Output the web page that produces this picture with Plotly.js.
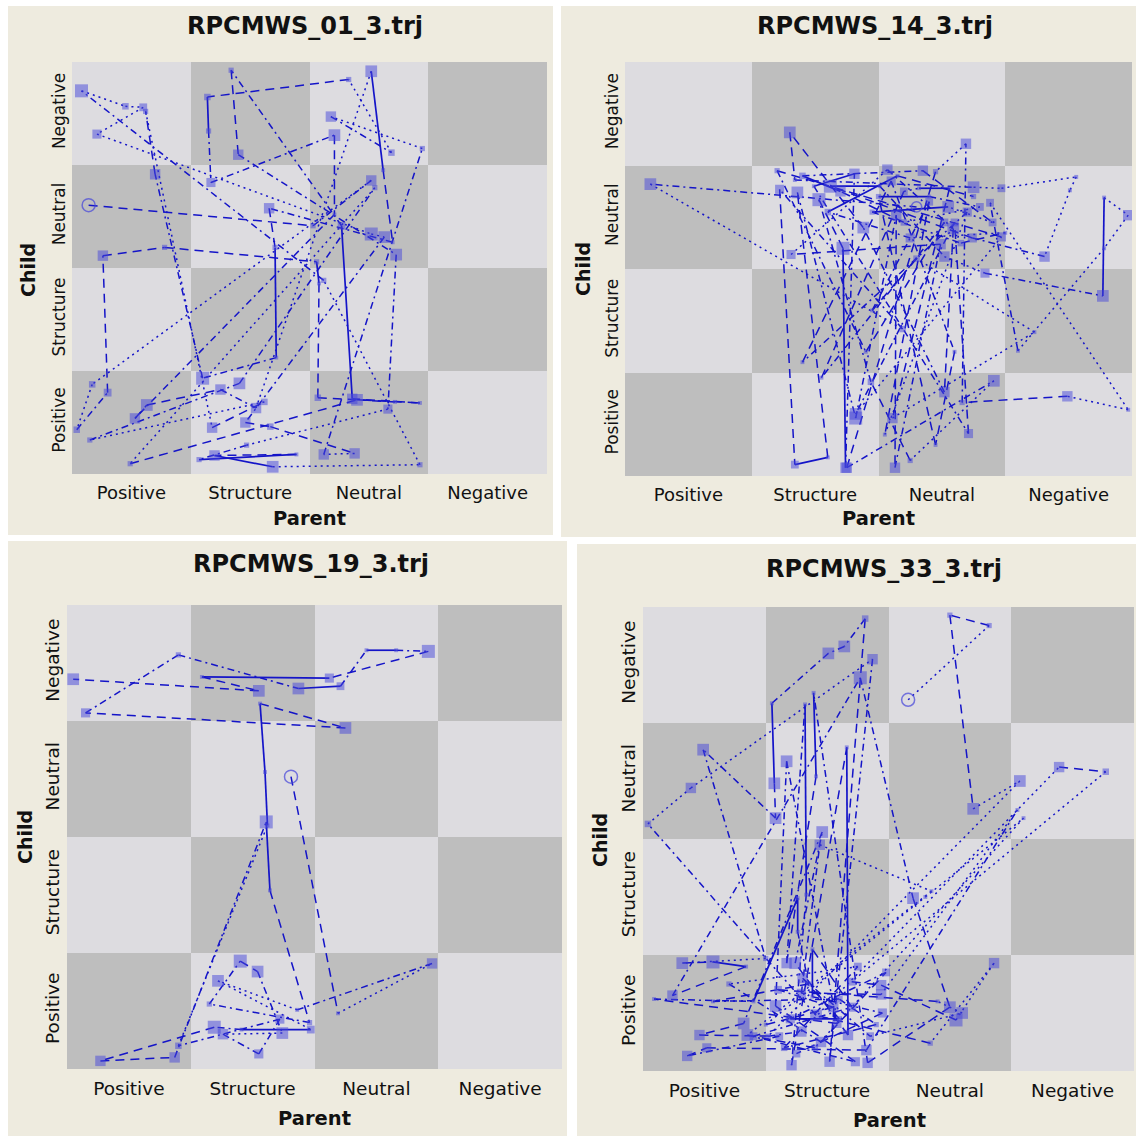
<!DOCTYPE html>
<html>
<head>
<meta charset="utf-8">
<script src="https://cdn.plot.ly/plotly-3.0.1.min.js"></script>
<style>
  html, body { margin: 0; padding: 0; background: #ffffff; }
  #chart { width: 1136px; height: 1137px; }
</style>
</head>
<body>
<div id="chart"></div>
<script>
// State-space grids: parent behaviour (x) against child behaviour (y).
// Each trajectory is a sequence of events; marker size = event duration,
// segment style = transition type.

const parentStates = ['Positive', 'Structure', 'Neutral', 'Negative'];
const childStates  = ['Positive', 'Structure', 'Neutral', 'Negative'];
const cellCenters  = [0.5, 1.5, 2.5, 3.5];
// checkerboard shading of the 4x4 grid (rows: child Positive..Negative)
const cellShade = [[1, 0, 1, 0], [0, 1, 0, 1], [1, 0, 1, 0], [0, 1, 0, 1]];

const fileNames = ['RPCMWS_01_3.trj', 'RPCMWS_14_3.trj', 'RPCMWS_19_3.trj', 'RPCMWS_33_3.trj'];

// ---- RPCMWS_01_3 ----
const p1X = [0.14, 2.03, 2.52, 0.17, 0.04, 0.30, 0.26, 0.78, 2.06, 2.08, 2.07, 2.93, 2.36, 2.27, 1.34, 1.40, 2.73, 2.66, 1.47, 1.07,
             1.89, 1.20, 1.69, 2.93, 2.12, 0.08, 0.45, 0.60, 0.21, 2.52, 2.63, 1.46, 1.67, 2.38, 2.12, 2.95, 2.18, 2.69, 2.33, 1.14,
             1.15, 1.17, 2.21, 2.21, 0.53, 0.63, 1.25, 1.55, 2.52, 2.62, 2.70, 1.66, 1.71, 1.72, 1.10, 0.70, 0.62, 1.18, 1.62, 0.15,
             1.41, 2.55, 0.49, 2.40, 2.72];
const p1Y = [2.61, 2.41, 2.85, 0.87, 0.43, 0.79, 2.12, 2.20, 2.06, 1.85, 0.74, 0.69, 0.73, 2.41, 3.92, 3.10, 2.13, 0.63, 0.28, 0.14,
             0.19, 0.18, 0.07, 0.09, 1.88, 3.72, 3.57, 3.56, 3.30, 2.33, 2.30, 0.50, 0.46, 0.20, 0.19, 3.16, 3.47, 3.12, 3.83, 3.66,
             3.33, 2.83, 3.29, 2.52, 0.54, 0.67, 0.82, 0.64, 3.91, 2.95, 2.25, 2.58, 2.20, 1.13, 0.93, 2.91, 3.52, 0.45, 0.70, 0.33,
             0.88, 2.78, 0.10, 0.72, 0.70];
const p1Size = [10, 4, 8, 5, 5, 6, 8, 4, 4, 3, 5, 3, 8, 6, 4, 8, 9, 7, 4, 4,
                3, 8, 9, 4, 4, 10, 5, 6, 7, 10, 9, 8, 5, 8, 8, 4, 8, 5, 4, 5,
                4, 7, 9, 3, 8, 9, 8, 8, 9, 3, 3, 8, 4, 3, 10, 8, 4, 8, 5, 4,
                9, 4, 4, 9, 3];
const p1Dash = ['dash', 'dashdot', 'dot', 'dot', 'dashdot', 'dash', 'dash', 'dash', 'solid', 'dash', 'dash', 'dash', 'solid', 'dashdot', 'dash', 'dashdot', 'dashdot', 'dot', 'dashdot', 'solid',
                'dash', 'solid', 'dot', 'dot', 'dashdot', 'dot', 'dot', 'dot', 'dot', 'dot', 'dashdot', 'dash', 'dash', 'dot', 'dashdot', 'dot', 'dashdot', 'dot', 'dash', 'solid',
                'dashdot', 'dashdot', 'dash', 'dashdot', 'dash', 'dash', 'dashdot', 'dot', 'solid', 'dash', 'dashdot', 'dash', 'solid', 'dashdot', 'dashdot', 'dash', 'dot', 'dash', 'dot', 'dashdot',
                'dashdot', 'dot', 'dash', 'dash'];

// ---- RPCMWS_14_3 ----
const p2X = [2.30, 0.20, 2.19, 1.22, 1.34, 1.60, 1.36, 1.82, 2.14, 2.13, 2.49, 1.31, 2.07, 2.59, 2.52, 1.88, 1.30, 1.34, 2.75, 2.97,
             3.56, 3.51, 3.31, 2.74, 1.62, 2.01, 2.52, 2.84, 3.77, 3.78, 3.97, 3.78, 3.10, 2.88, 3.97, 3.49, 2.66, 2.69, 2.45, 1.75,
             2.91, 2.25, 1.94, 1.53, 1.72, 1.74, 1.81, 1.49, 2.71, 2.60, 1.82, 2.97, 1.20, 1.90, 2.52, 1.55, 2.20, 2.32, 2.56, 2.11,
             3.23, 2.30, 1.95, 2.40, 2.05, 2.70, 1.40, 2.10, 2.60, 2.45, 2.00, 2.40, 2.80, 2.20, 1.70, 1.40, 2.35, 2.90, 2.55, 1.95,
             2.65, 3.00, 2.25, 1.60, 2.15, 2.75];
const p2Y = [2.60, 2.82, 1.42, 2.77, 0.11, 0.18, 2.74, 0.56, 2.52, 0.08, 2.24, 2.14, 2.96, 2.39, 0.81, 2.40, 3.32, 2.86, 2.79, 2.78,
             2.89, 2.76, 2.12, 2.30, 2.80, 2.80, 2.12, 1.96, 1.74, 2.69, 2.52, 2.20, 1.21, 2.64, 0.64, 0.77, 0.71, 3.21, 2.94, 0.08,
             0.92, 0.15, 0.91, 2.67, 2.20, 0.08, 2.92, 2.80, 0.41, 2.45, 0.60, 2.31, 2.95, 1.20, 2.45, 0.95, 2.75, 2.78, 2.78, 0.56,
             1.39, 2.10, 1.60, 2.65, 0.40, 2.55, 1.10, 2.85, 1.20, 0.30, 2.70, 2.70, 2.60, 2.45, 2.75, 2.90, 2.95, 2.45, 2.60, 2.55,
             2.25, 2.35, 2.30, 2.55, 2.90, 2.70];
const p2Size = [8, 9, 5, 7, 6, 3, 9, 10, 8, 8, 8, 7, 8, 9, 8, 9, 9, 3, 9, 6,
                3, 3, 8, 7, 10, 3, 8, 7, 9, 3, 8, 3, 3, 6, 3, 8, 4, 8, 4, 8,
                9, 4, 5, 10, 10, 8, 8, 3, 7, 6, 9, 7, 4, 3, 6, 3, 6, 3, 3, 8,
                3, 5, 3, 6, 3, 7, 3, 7, 3, 3, 4, 3, 6, 5, 8, 5, 8, 6, 9, 4,
                5, 3, 7, 5, 3, 4];
const p2Dash = ['dashdot', 'dot', 'dashdot', 'dash', 'solid', 'dash', 'dashdot', 'dashdot', 'dash', 'dashdot', 'dash', 'dot', 'dashdot', 'dash', 'dashdot', 'dash', 'dash', 'dashdot', 'dot', 'dot',
                'dot', 'dot', 'dashdot', 'dash', 'solid', 'dashdot', 'dot', 'dashdot', 'solid', 'dot', 'dot', 'dot', 'dashdot', 'dot', 'dot', 'dash', 'dashdot', 'dot', 'dash', 'dashdot',
                'dot', 'dash', 'dashdot', 'dash', 'solid', 'dashdot', 'solid', 'dashdot', 'dash', 'dashdot', 'dot', 'dash', 'dashdot', 'dash', 'dashdot', 'dash', 'dot', 'solid', 'dash', 'dot',
                'dot', 'dash', 'dashdot', 'dash', 'dot', 'dashdot', 'dash', 'dashdot', 'dash', 'dash', 'solid', 'dashdot', 'dot', 'dash', 'solid', 'dashdot', 'dash', 'dot', 'solid', 'dashdot',
                'dash', 'dot', 'dashdot', 'solid', 'dash'];

// ---- RPCMWS_19_3 ----
const p3X = [1.81, 2.19, 2.95, 1.86, 1.22, 1.97, 1.41, 1.19, 0.27, 0.87, 1.61, 1.64, 1.96, 1.15, 1.40, 1.54, 1.74, 1.26, 1.55, 1.72,
             0.90, 1.62, 1.60, 1.56, 2.25, 0.15, 0.90, 1.87, 2.21, 2.42, 2.66, 2.92, 2.12, 1.09, 1.55, 0.05];
const p3Y = [2.52, 0.48, 0.91, 0.51, 0.76, 0.34, 0.34, 0.36, 0.07, 0.10, 2.13, 1.54, 0.40, 0.56, 0.93, 0.84, 0.31, 0.30, 0.13, 0.43,
             0.20, 2.10, 2.56, 3.15, 2.94, 3.07, 3.57, 3.28, 3.30, 3.61, 3.61, 3.60, 3.37, 3.38, 3.26, 3.36];
const p3Size = [10, 3, 8, 3, 9, 6, 3, 10, 8, 8, 10, 3, 4, 4, 10, 9, 9, 8, 7, 7,
                5, 3, 3, 3, 9, 7, 4, 9, 6, 3, 3, 10, 7, 3, 9, 9];
const p3Dash = ['dash', 'dot', 'dashdot', 'dot', 'dot', 'solid', 'dashdot', 'dash', 'dash', 'dashdot', 'solid', 'dash', 'dashdot', 'dashdot', 'dash', 'dashdot', 'dot', 'dashdot', 'dashdot', 'dashdot',
                'dot', 'solid', 'solid', 'dash', 'dash', 'dashdot', 'dashdot', 'solid', 'dashdot', 'solid', 'dashdot', 'dash', 'solid', 'dash', 'dash'];

// ---- RPCMWS_33_3 ----
const p4X = [2.16, 2.82, 2.50, 2.69, 3.07, 1.02, 1.29, 3.39, 3.77, 1.70, 1.94, 2.55, 2.86, 2.34, 1.41, 0.04, 0.39, 1.87, 1.52, 1.81,
             1.64, 1.51, 1.05, 1.07, 1.08, 0.49, 1.00, 0.32, 0.57, 0.84, 0.24, 1.77, 2.20, 2.50, 1.83, 1.39, 1.41, 1.17, 1.32, 1.33,
             1.21, 1.66, 1.67, 1.24, 1.46, 0.82, 0.46, 1.11, 0.36, 0.52, 1.82, 3.05, 1.94, 1.29, 1.44, 2.35, 0.85, 1.73, 1.08, 1.17,
             1.58, 0.09, 0.90, 1.26, 1.26, 1.35, 0.57, 1.60, 1.90, 1.15, 1.75, 0.70, 1.45, 1.98, 1.20, 1.60, 1.30, 1.85, 2.60, 2.40,
             1.10, 1.55, 1.00, 2.30, 3.10, 1.40, 0.90, 1.70, 1.38, 1.38, 1.95, 1.25];
const p4Y = [3.20, 3.84, 3.93, 2.26, 2.50, 0.30, 0.34, 2.62, 2.58, 0.77, 0.74, 0.44, 0.93, 0.24, 0.48, 2.13, 2.44, 3.55, 0.08, 3.90,
             3.66, 3.60, 3.17, 2.48, 2.18, 2.77, 0.97, 0.93, 0.94, 0.90, 0.65, 3.39, 1.49, 0.55, 0.07, 3.26, 2.54, 0.93, 3.16, 1.52,
             0.05, 2.79, 0.31, 0.93, 2.06, 0.41, 0.31, 0.30, 0.13, 0.20, 0.18, 2.25, 0.66, 0.67, 1.95, 1.55, 0.31, 0.08, 0.56, 2.67,
             0.41, 0.62, 0.60, 1.49, 1.20, 0.75, 0.60, 0.62, 0.40, 0.20, 0.90, 0.75, 0.25, 0.85, 0.45, 0.45, 0.80, 0.30, 0.50, 0.60,
             0.70, 0.55, 0.40, 1.50, 2.18, 0.20, 0.30, 0.55, 1.05, 0.64, 0.50, 0.15];
const p4Size = [10, 4, 4, 9, 9, 4, 8, 8, 5, 6, 8, 10, 8, 4, 9, 5, 8, 8, 8, 5,
                9, 9, 3, 9, 9, 9, 4, 9, 10, 3, 8, 10, 9, 9, 8, 3, 3, 8, 3, 3,
                8, 3, 8, 9, 9, 9, 8, 6, 8, 7, 8, 3, 8, 7, 8, 3, 9, 7, 9, 9,
                7, 3, 3, 3, 3, 4, 3, 5, 4, 5, 6, 4, 8, 6, 7, 4, 8, 6, 9, 3,
                6, 8, 3, 3, 3, 5, 6, 7, 3, 3, 7, 6];
const p4Dash = ['dot', 'dash', 'dash', 'dot', 'dot', 'dashdot', 'dot', 'dash', 'dot', 'dash', 'dash', 'dot', 'dot', 'dash', 'dashdot', 'dot', 'dot', 'dashdot', 'dash', 'dashdot',
                'dashdot', 'dashdot', 'solid', 'dash', 'dashdot', 'dashdot', 'dot', 'dash', 'solid', 'dash', 'dashdot', 'dashdot', 'dash', 'dash', 'dashdot', 'solid', 'dash', 'dashdot', 'solid', 'dashdot',
                'dash', 'solid', 'dash', 'dashdot', 'dashdot', 'dash', 'dash', 'dashdot', 'dash', 'dash', 'dashdot', 'dot', 'dash', 'dashdot', 'dot', 'dot', 'dashdot', 'dash', 'dashdot', 'dashdot',
                'dash', 'dashdot', 'solid', 'solid', 'dashdot', 'dash', 'dashdot', 'dashdot', 'dash', 'dash', 'dot', 'dashdot', 'dash', 'dashdot', 'solid', 'dash', 'dashdot', 'dot', 'dot', 'dash',
                'dashdot', 'dash', 'dot', 'dot', 'dot', 'dash', 'dashdot', 'dash', 'solid', 'dashdot', 'dash'];

// ---------------- layout geometry (page pixels) ----------------
const W = 1136, H = 1137;
const panels = [
  { bg: [8, 6, 553, 535],    grid: [72, 62, 547, 474],    title: [305, 26],  parent: [309, 518],  child: [28, 270] },
  { bg: [561, 6, 1136, 537], grid: [625, 62, 1132, 476],  title: [875, 26],  parent: [878, 518],  child: [583, 269] },
  { bg: [8, 541, 567, 1136], grid: [67, 605, 562, 1069],  title: [311, 564], parent: [314, 1118], child: [25, 837] },
  { bg: [577, 544, 1136, 1136], grid: [643, 607, 1134, 1071], title: [884, 569], parent: [889, 1120], child: [600, 840] }
];
const series = [
  { x: p1X, y: p1Y, size: p1Size, dash: p1Dash },
  { x: p2X, y: p2Y, size: p2Size, dash: p2Dash },
  { x: p3X, y: p3Y, size: p3Size, dash: p3Dash },
  { x: p4X, y: p4Y, size: p4Size, dash: p4Dash }
];

const px = v => v / W;
const py = v => 1 - v / H;

const LINE_BLUE = '#1414c8';
const MARK_BLUE = 'rgba(72,72,218,0.72)';
const SIZE_SCALE = 1.3;          // duration -> marker pixels
const dashPatterns = {
  solid: 'solid',
  dash: '9px,6px',
  dot: '2px,4px',
  dashdot: '7px,4px,2px,4px'
};
const FONT = 'DejaVu Sans, Verdana, sans-serif';

const traces = [];
const layout = {
  width: W, height: H,
  margin: { l: 0, r: 0, t: 0, b: 0, pad: 0 },
  paper_bgcolor: '#ffffff',
  plot_bgcolor: 'rgba(0,0,0,0)',
  showlegend: false,
  shapes: [],
  annotations: []
};

panels.forEach((p, i) => {
  const n = i + 1;
  const xa = n === 1 ? 'x' : 'x' + n;
  const ya = n === 1 ? 'y' : 'y' + n;
  const xKey = n === 1 ? 'xaxis' : 'xaxis' + n;
  const yKey = n === 1 ? 'yaxis' : 'yaxis' + n;
  const big = i >= 2;

  layout.shapes.push({
    type: 'rect', xref: 'paper', yref: 'paper', layer: 'below',
    x0: px(p.bg[0]), x1: px(p.bg[2]), y0: py(p.bg[3]), y1: py(p.bg[1]),
    fillcolor: '#eeebdf', line: { width: 0 }
  });

  layout[xKey] = {
    domain: [px(p.grid[0]), px(p.grid[2])], anchor: ya,
    range: [0, 4], fixedrange: true,
    showgrid: false, zeroline: false, showline: false, ticks: '',
    tickvals: cellCenters, ticktext: parentStates,
    tickfont: { family: FONT, size: big ? 18.5 : 18, color: '#111111' },
    ticklabelstandoff: 6
  };
  layout[yKey] = {
    domain: [py(p.grid[3]), py(p.grid[1])], anchor: xa,
    range: [0, 4], fixedrange: true,
    showgrid: false, zeroline: false, showline: false, ticks: '',
    tickvals: cellCenters, ticktext: childStates, tickangle: -90,
    tickfont: { family: FONT, size: big ? 18.5 : 17, color: '#111111' },
    ticklabelstandoff: 3
  };

  // grid cells
  traces.push({
    type: 'heatmap', xaxis: xa, yaxis: ya,
    x: cellCenters, y: cellCenters, z: cellShade,
    zmin: 0, zmax: 1, showscale: false, hoverinfo: 'skip',
    colorscale: [[0, '#dddce0'], [1, '#bebebe']]
  });

  // trajectory segments, grouped by transition style
  const s = series[i];
  const groups = {};
  for (let k = 0; k < s.x.length - 1; k++) {
    const style = s.dash[k] || 'dot';
    if (!groups[style]) groups[style] = { x: [], y: [] };
    groups[style].x.push(s.x[k], s.x[k + 1], null);
    groups[style].y.push(s.y[k], s.y[k + 1], null);
  }
  Object.keys(groups).forEach(style => {
    traces.push({
      type: 'scatter', mode: 'lines', xaxis: xa, yaxis: ya,
      x: groups[style].x, y: groups[style].y, connectgaps: false,
      hoverinfo: 'skip',
      line: { color: LINE_BLUE, width: style === 'solid' ? 1.7 : 1.5, dash: dashPatterns[style] }
    });
  });

  // events (marker size = duration)
  traces.push({
    type: 'scatter', mode: 'markers', xaxis: xa, yaxis: ya,
    x: s.x.slice(1), y: s.y.slice(1),
    marker: { symbol: 'square', size: s.size.slice(1).map(v => v * SIZE_SCALE), color: MARK_BLUE, line: { width: 0 } },
    hoverinfo: 'skip'
  });
  // starting state
  traces.push({
    type: 'scatter', mode: 'markers', xaxis: xa, yaxis: ya,
    x: [s.x[0]], y: [s.y[0]],
    marker: { symbol: 'circle-open', size: s.size[0] * SIZE_SCALE, color: MARK_BLUE, line: { width: 1.5, color: MARK_BLUE } },
    hoverinfo: 'skip'
  });

  layout.annotations.push(
    { xref: 'paper', yref: 'paper', x: px(p.title[0]), y: py(p.title[1]), xanchor: 'center', yanchor: 'middle',
      text: fileNames[i], showarrow: false, font: { family: FONT, size: 24, color: '#111111', weight: 'bold' } },
    { xref: 'paper', yref: 'paper', x: px(p.parent[0]), y: py(p.parent[1]), xanchor: 'center', yanchor: 'middle',
      text: 'Parent', showarrow: false, font: { family: FONT, size: 19.5, color: '#111111', weight: 'bold' } },
    { xref: 'paper', yref: 'paper', x: px(p.child[0]), y: py(p.child[1]), xanchor: 'center', yanchor: 'middle',
      text: 'Child', textangle: -90, showarrow: false, font: { family: FONT, size: 19, color: '#111111', weight: 'bold' } }
  );
});

Plotly.newPlot('chart', traces, layout, { displayModeBar: false, staticPlot: true });
</script>
</body>
</html>
